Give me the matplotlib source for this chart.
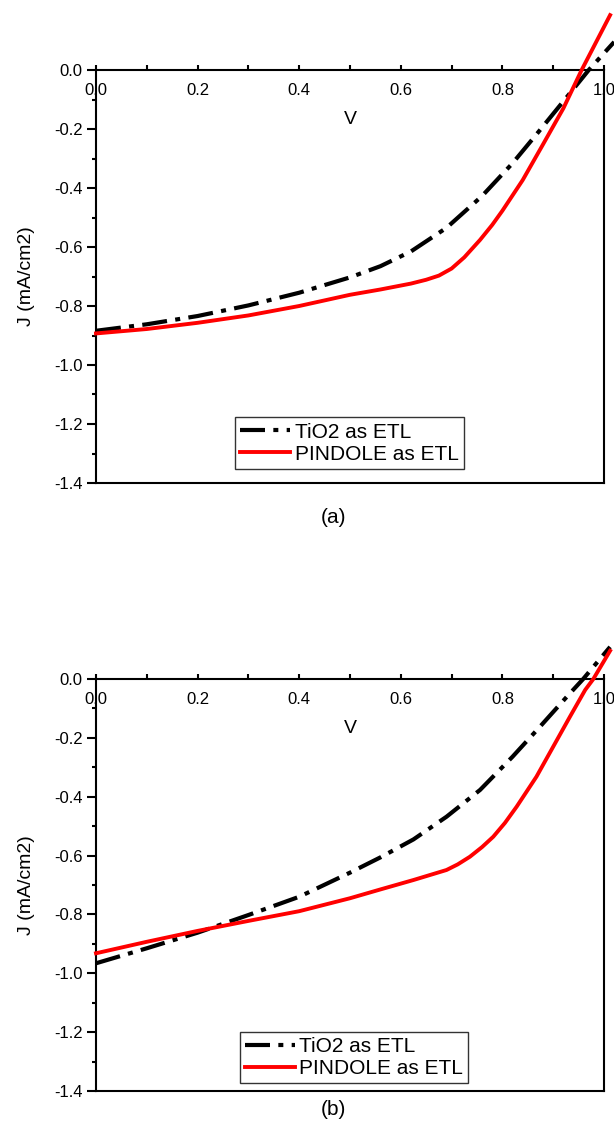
import matplotlib
matplotlib.use("Agg")
import matplotlib.pyplot as plt
from matplotlib.ticker import MultipleLocator, FormatStrFormatter

plt.rcParams['font.family'] = ['Liberation Sans', 'DejaVu Sans']

# ---- data: panel (a) ----
v_tio2_a = [0.0, 0.1, 0.2, 0.3, 0.4, 0.5, 0.56, 0.62, 0.69, 0.76, 0.82, 0.87, 0.93, 0.97, 1.02]
j_tio2_a = [-0.884, -0.862, -0.834, -0.798, -0.755, -0.703, -0.665, -0.615, -0.535, -0.427,
            -0.316, -0.212, -0.085, 0.0, 0.095]
v_pind_a = [0.0, 0.1, 0.2, 0.3, 0.4, 0.5, 0.56, 0.62, 0.65, 0.675, 0.70, 0.725, 0.756,
            0.78, 0.80, 0.84, 0.88, 0.92, 0.956, 1.012]
j_pind_a = [-0.893, -0.878, -0.857, -0.832, -0.800, -0.762, -0.744, -0.724, -0.711, -0.697,
            -0.673, -0.635, -0.576, -0.525, -0.477, -0.373, -0.252, -0.130, 0.0, 0.186]

# ---- data: panel (b) ----
v_tio2_b = [0.0, 0.1, 0.2, 0.3, 0.4, 0.5, 0.56, 0.625, 0.69, 0.756, 0.82, 0.874, 0.927, 0.959, 1.012]
j_tio2_b = [-0.966, -0.915, -0.862, -0.802, -0.740, -0.658, -0.606, -0.545, -0.468, -0.377,
            -0.264, -0.162, -0.060, 0.0, 0.109]
v_pind_b = [0.0, 0.1, 0.2, 0.3, 0.4, 0.5, 0.56, 0.625, 0.69, 0.712, 0.736, 0.76, 0.782,
            0.805, 0.828, 0.867, 0.90, 0.933, 0.963, 0.979, 1.012]
j_pind_b = [-0.932, -0.893, -0.856, -0.822, -0.789, -0.745, -0.715, -0.683, -0.649, -0.630,
            -0.604, -0.571, -0.536, -0.489, -0.434, -0.332, -0.230, -0.128, -0.037, 0.0, 0.096]

labels = ["TiO2 as ETL", "PINDOLE as ETL"]
captions = ["(a)", "(b)"]
xlabel = "V"
ylabel = "J (mA/cm2)"

fig = plt.figure(figsize=(6.14, 11.24), dpi=100)
W, H = 614, 1124

def make_axes(top_px, bot_px):
    left, right = 96, 604
    return fig.add_axes([left / W, 1 - bot_px / H, (right - left) / W, (bot_px - top_px) / H])

ax_a = make_axes(70, 483)
ax_b = make_axes(679, 1091)

panels = [
    (ax_a, v_tio2_a, j_tio2_a, v_pind_a, j_pind_a, (0.274, 0.034), 0.540),
    (ax_b, v_tio2_b, j_tio2_b, v_pind_b, j_pind_b, (0.283, 0.019), 0.0125),
]

for i, (ax, vt, jt, vp, jp, leg_anchor, cap_y) in enumerate(panels):
    ax.plot(vt, jt, color='black', lw=3.0, linestyle=(0, (6.0, 2.0, 1.2, 2.0)),
            dash_capstyle='butt', solid_joinstyle='round', clip_on=False,
            label=labels[0], zorder=3)
    ax.plot(vp, jp, color='#ff0000', lw=2.8, clip_on=False, solid_joinstyle='round',
            label=labels[1], zorder=4)
    ax.set_xlim(0, 1.0)
    ax.set_ylim(-1.4, 0.0)
    for s in ax.spines.values():
        s.set_linewidth(1.5)
    ax.xaxis.set_major_locator(MultipleLocator(0.2))
    ax.xaxis.set_minor_locator(MultipleLocator(0.1))
    ax.yaxis.set_major_locator(MultipleLocator(0.2))
    ax.yaxis.set_minor_locator(MultipleLocator(0.1))
    ax.xaxis.set_major_formatter(FormatStrFormatter('%.1f'))
    ax.yaxis.set_major_formatter(FormatStrFormatter('%.1f'))
    ax.tick_params(axis='x', which='both', top=True, bottom=False, labeltop=True,
                   labelbottom=False, direction='out', width=1.5)
    ax.tick_params(axis='x', which='major', length=3.5, pad=-24, labelsize=12)
    ax.tick_params(axis='x', which='minor', length=3.5)
    ax.tick_params(axis='y', which='both', left=True, right=False, direction='out', width=1.5)
    ax.tick_params(axis='y', which='major', length=6.5, pad=3, labelsize=12)
    ax.tick_params(axis='y', which='minor', length=3)
    ax.text(0.5, 0.879, xlabel, transform=ax.transAxes, ha='center', va='center', fontsize=14)
    ax.set_ylabel(ylabel, fontsize=14, labelpad=14)
    leg = ax.legend(loc='lower left', bbox_to_anchor=leg_anchor, borderaxespad=0,
                    fontsize=15, frameon=True, fancybox=False, edgecolor='black',
                    borderpad=0.25, labelspacing=0.15, handlelength=2.4,
                    handletextpad=0.2)
    leg.get_frame().set_linewidth(1.0)
    fig.text(333 / W, cap_y, captions[i], ha='center', va='center', fontsize=15)

fig.savefig("out.png", dpi=100)
